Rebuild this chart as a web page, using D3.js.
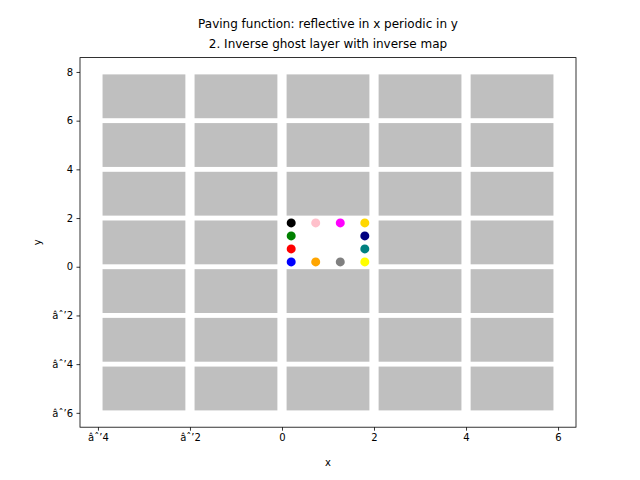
<!DOCTYPE html>
<html>
<head>
    <title>Paving function</title>
    <style>body{margin:0;background:#fff}</style>
</head>
<body>
<svg id="chart" width="640" height="480"></svg>
<script src="https://cdnjs.cloudflare.com/ajax/libs/d3/7.8.5/d3.min.js"></script>
<script>
    // grid of ghost cells (lower-left corners), centre cell is left empty
    let cellX = [-4, -2, 0, 2, 4];
    let cellY = [-6, -4, -2, 0, 2, 4, 6];
    let cellSize = 2;
    let inset = 0.1;

    let pointX = [0.2, 0.733, 1.267, 1.8, 0.2, 0.2, 0.2, 0.733, 1.267, 1.8, 1.8, 1.8];
    let pointY = [0.2, 0.2, 0.2, 0.2, 0.733, 1.267, 1.8, 1.8, 1.8, 1.8, 0.733, 1.267];
    let pointColor = ['blue', 'orange', 'gray', 'yellow', 'red', 'green', 'black', 'pink', 'magenta', 'gold', 'teal', 'navy'];

    let xTicks = [-4, -2, 0, 2, 4, 6];
    let yTicks = [-6, -4, -2, 0, 2, 4, 6, 8];

    let svg = d3.select('#chart');
    let mLeft = 80, mRight = 576, mTop = 57.6, mBottom = 427.2;

    let x = d3.scaleLinear().domain([-4.39, 6.39]).range([mLeft, mRight]);
    let y = d3.scaleLinear().domain([-6.59, 8.59]).range([mBottom, mTop]);

    let cells = [];
    cellX.forEach(cx => cellY.forEach(cy => {
        if (!(cx == 0 && cy == 0)) cells.push([cx, cy]);
    }));

    svg.selectAll('rect.cell').data(cells).enter().append('rect')
        .attr('x', d => x(d[0] + inset))
        .attr('y', d => y(d[1] + cellSize - inset))
        .attr('width', d => x(d[0] + cellSize - inset) - x(d[0] + inset))
        .attr('height', d => y(d[1] + inset) - y(d[1] + cellSize - inset))
        .attr('fill', '#bfbfbf');

    svg.selectAll('circle').data(pointX).enter().append('circle')
        .attr('cx', d => x(d))
        .attr('cy', (d, i) => y(pointY[i]))
        .attr('r', 4.5)
        .attr('fill', (d, i) => pointColor[i]);

    svg.append('rect').attr('x', mLeft).attr('y', mTop)
        .attr('width', mRight - mLeft).attr('height', mBottom - mTop)
        .attr('fill', 'none').attr('stroke', 'black').attr('stroke-width', 0.8);

    let font = 'DejaVu Sans, sans-serif';
    let xa = svg.append('g').attr('transform', 'translate(0,' + mBottom + ')')
        .call(d3.axisBottom(x).tickValues(xTicks).tickSize(3.5).tickPadding(3.5));
    let ya = svg.append('g').attr('transform', 'translate(' + mLeft + ',0)')
        .call(d3.axisLeft(y).tickValues(yTicks).tickSize(3.5).tickPadding(3.5));
    [xa, ya].forEach(a => {
        a.select('.domain').remove();
        a.selectAll('text').attr('font-family', font).attr('font-size', 10).attr('fill', 'black');
        a.selectAll('line').attr('stroke-width', 0.8);
    });

    svg.append('text').attr('x', (mLeft + mRight) / 2).attr('y', 466)
        .attr('text-anchor', 'middle').attr('font-family', font).attr('font-size', 10).text('x');
    svg.append('text').attr('transform', 'translate(41,' + (mTop + mBottom) / 2 + ') rotate(-90)')
        .attr('text-anchor', 'middle').attr('font-family', font).attr('font-size', 10).text('y');

    svg.append('text').attr('x', (mLeft + mRight) / 2).attr('y', 28)
        .attr('text-anchor', 'middle').attr('font-family', font).attr('font-size', 12)
        .text('Paving function: reflective in x periodic in y');
    svg.append('text').attr('x', (mLeft + mRight) / 2).attr('y', 48)
        .attr('text-anchor', 'middle').attr('font-family', font).attr('font-size', 12)
        .text('2. Inverse ghost layer with inverse map');
</script>
</body>
</html>
